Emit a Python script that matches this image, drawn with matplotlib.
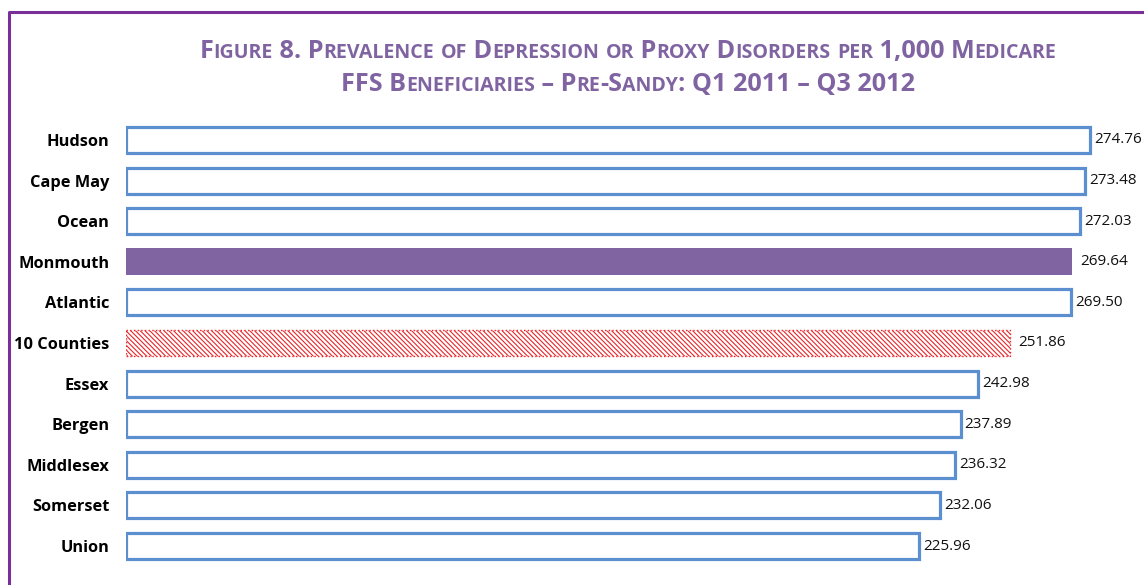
import matplotlib.pyplot as plt
from matplotlib.lines import Line2D

counties = ['Hudson', 'Cape May', 'Ocean', 'Monmouth', 'Atlantic', '10 Counties',
            'Essex', 'Bergen', 'Middlesex', 'Somerset', 'Union']
rates = [274.76, 273.48, 272.03, 269.64, 269.50, 251.86,
         242.98, 237.89, 236.32, 232.06, 225.96]
title_lines = ['Figure 8. Prevalence of Depression or Proxy Disorders per 1,000 Medicare',
               'FFS Beneficiaries \u2013 Pre-Sandy: Q1 2011 \u2013 Q3 2012']

PURPLE = '#8064A2'
BLUE = '#5B8FCF'
RED = '#E8262A'
FONT = 'Open Sans'

plt.rcParams['hatch.linewidth'] = 0.8

W, H = 1144, 585
fig = plt.figure(figsize=(W / 100, H / 100), dpi=100)
ax = fig.add_axes([126 / W, 1 - 566.3 / H, 1 - 126 / W, (566.3 - 119.7) / H])

for i, (name, v) in enumerate(zip(counties, rates)):
    gap = 6
    if name == 'Monmouth':
        ax.barh(i, v, height=0.66, color=PURPLE, edgecolor='none')
    elif name == '10 Counties':
        ax.barh(i, v, height=0.66, facecolor='white', edgecolor=RED,
                hatch='\\\\\\\\\\\\\\', linewidth=1.0, linestyle=':')
    else:
        ax.barh(i, v, height=0.64, facecolor='white', edgecolor=BLUE, linewidth=2.3)
        gap = 3
    ax.annotate(f'{v:.2f}', (v, i), xytext=(gap, 0), textcoords='offset points',
                va='center', ha='left', fontsize=11, family=FONT, color='#111111')

ax.set_xlim(0, (W - 126) / 3.508)
ax.set_ylim(10.5, -0.5)
ax.set_yticks(range(len(counties)))
ax.set_yticklabels(counties, fontsize=11.8, fontweight='bold', family=FONT)
ax.tick_params(axis='y', length=0, pad=12)
ax.set_xticks([])
for s in ax.spines.values():
    s.set_visible(False)

# purple frame (left and top)
fig.add_artist(Line2D([8.5 / W, 8.5 / W, 1], [0, 1 - 11.5 / H, 1 - 11.5 / H],
                      transform=fig.transFigure, color='#7A2E98', lw=2.2))

# small-caps title
renderer = fig.canvas.get_renderer()


def runs_of(s):
    out = []
    for ch in s:
        small = ch.islower()
        if out and out[-1][1] == small:
            out[-1][0] += ch.upper()
        else:
            out.append([ch.upper(), small])
    return out


def width_of(txt, size):
    t1 = fig.text(0, 0, '|' + txt + '|', fontsize=size, fontweight='bold', family=FONT)
    t2 = fig.text(0, 0, '||', fontsize=size, fontweight='bold', family=FONT)
    w = t1.get_window_extent(renderer).width - t2.get_window_extent(renderer).width
    t1.remove()
    t2.remove()
    return w


big, small = 18.2, 14.1
for line, (cx, cy) in zip(title_lines, [(628, 58), (628, 91)]):
    runs = runs_of(line)
    widths = [width_of(r, small if sm else big) for r, sm in runs]
    x = cx - sum(widths) / 2
    for (r, sm), w in zip(runs, widths):
        fig.text(x / W, 1 - cy / H, r, fontsize=small if sm else big,
                 fontweight='bold', family=FONT, color=PURPLE, ha='left', va='baseline')
        x += w

fig.savefig('out.png', dpi=100)
